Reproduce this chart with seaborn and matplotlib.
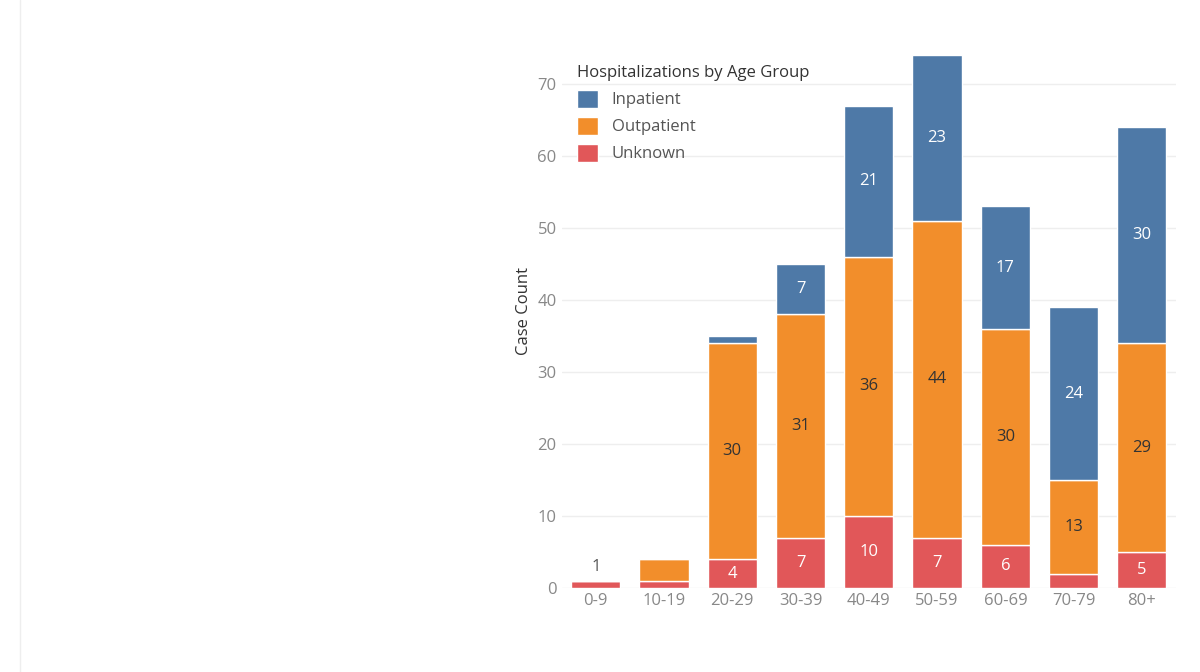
import matplotlib
matplotlib.use("Agg")
import matplotlib.pyplot as plt
import seaborn as sns
import pandas as pd
import numpy as np

ages = ["0-9","10-19","20-29","30-39","40-49","50-59","60-69","70-79","80+"]
unknown = [1,1,4,7,10,7,6,2,5]
outpatient = [0,3,30,31,36,44,30,13,29]
inpatient = [0,0,1,7,21,23,17,24,30]

sns.set_theme(style="white")
plt.rcParams['font.family'] = ['Open Sans', 'DejaVu Sans']

fig = plt.figure(figsize=(12, 6.72), dpi=100)
ax = fig.add_axes([0.468, 0.125, 0.512, 0.825])
fig.add_artist(plt.Line2D([0.017, 0.017], [0, 1], color="#eeeeee", lw=1))

df = pd.DataFrame({"age": ages, "Unknown": unknown, "Outpatient": outpatient, "Inpatient": inpatient})
x = np.arange(len(ages))
u = np.array(unknown); o = np.array(outpatient); i = np.array(inpatient)
blue, orange, red = "#4e79a7", "#f28e2b", "#e15759"
w = 0.72
ax.bar(x, u, w, color=red, label="Unknown")
ax.bar(x, o, w, bottom=u, color=orange, label="Outpatient")
ax.bar(x, i, w, bottom=u+o, color=blue, label="Inpatient")

for k in range(len(ages)):
    if u[k] >= 4:
        ax.text(x[k], u[k]/2, str(u[k]), ha="center", va="center", color="white", fontsize=12)
    if o[k] >= 10:
        ax.text(x[k], u[k]+o[k]/2, str(o[k]), ha="center", va="center", color="#333333", fontsize=12)
    if i[k] >= 5:
        ax.text(x[k], u[k]+o[k]+i[k]/2, str(i[k]), ha="center", va="center", color="white", fontsize=12)
ax.text(x[0], u[0]+0.8, "1", ha="center", va="bottom", color="#555555", fontsize=12)

ax.set_xlim(-0.5, len(ages)-0.5)
ax.set_ylim(0, 77)
ax.set_yticks(range(0, 71, 10))
ax.set_xticks(x)
ax.set_xticklabels(ages)
ax.tick_params(axis="both", colors="#888888", labelsize=12, length=0)
ax.yaxis.grid(True, color="#eeeeee", lw=1)
ax.set_axisbelow(True)
for s in ax.spines.values():
    s.set_visible(False)
ax.set_ylabel("Case Count", fontsize=12, color="#333333")
ax.set_xlabel("")

h, l = ax.get_legend_handles_labels()
leg = ax.legend(h[::-1], l[::-1], title="Hospitalizations by Age Group", loc="upper left",
                bbox_to_anchor=(0.0, 0.97), frameon=False, fontsize=12, title_fontsize=12,
                handlelength=1.3, handleheight=1.3, alignment="left")
for t in leg.get_texts():
    t.set_color("#555555")
leg.get_title().set_color("#333333")

fig.savefig("out.png", dpi=100)
